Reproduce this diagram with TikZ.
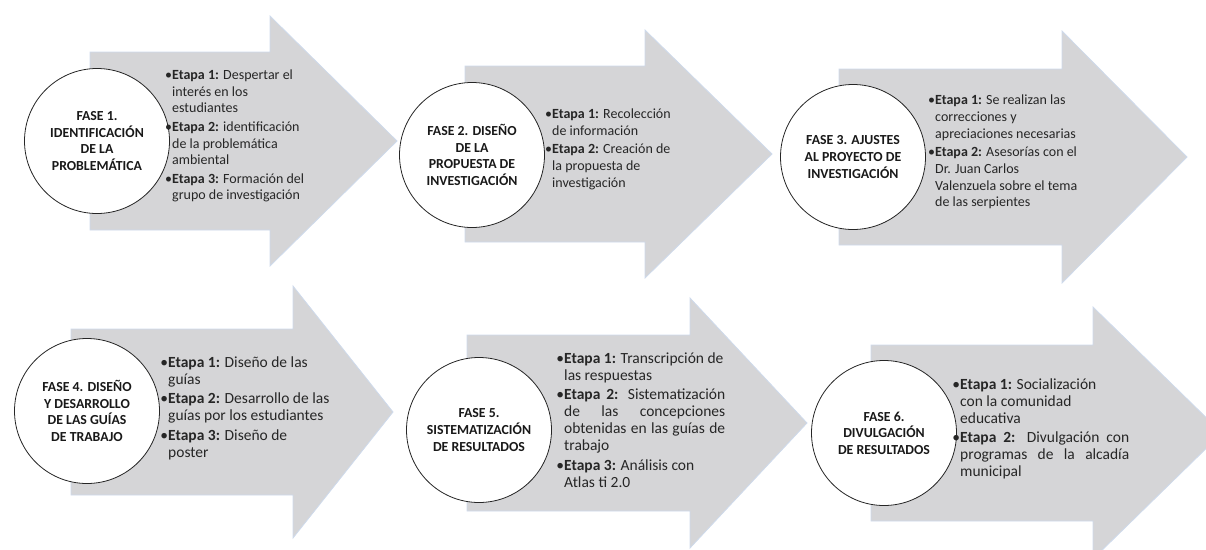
\documentclass[tikz,border=0pt]{standalone}
\usepackage{fontspec}
\setmainfont{Carlito}
\usepackage{tikz}
\usetikzlibrary{positioning}
\definecolor{flechagris}{RGB}{213,213,215}
\definecolor{flechaborde}{RGB}{206,218,236}
\tikzstyle{flecha} = [fill=flechagris, draw=flechaborde, line width=0.8pt]
\tikzstyle{fase} = [circle, draw=black!85, fill=white, line width=0.8pt, minimum size=145pt, inner sep=0pt, align=center, font=\bfseries\fontsize{13.8}{16.6}\selectfont, text=black!90]
\tikzstyle{etapas} = [anchor=west, align=left, inner sep=0pt, font=\fontsize{14}{16.8}\selectfont, text=black!85]
\tikzstyle{etapasg} = [etapas, font=\fontsize{15.5}{17}\selectfont]
% left x, centre y, head x, tip x, half body, half head
\newcommand{\flecha}[6]{%
  \fill[flecha] (#1,#2-#5) -- (#3,#2-#5) -- (#3,#2-#6) -- (#4,#2) -- (#3,#2+#6) -- (#3,#2+#5) -- (#1,#2+#5) -- cycle;}
\newcommand{\etapa}[1]{\llap{\textbullet}\textbf{Etapa #1:}}
\newcommand{\justa}[2]{\makebox[#1][s]{#2}}

\begin{document}
\begin{tikzpicture}[x=1pt, y=-1pt]
    \useasboundingbox (0,0) rectangle (1206,549);

    % Arrows
    \flecha{90}{141}{270}{397}{89}{125}
    \flecha{465}{154}{645}{772}{88}{124}
    \flecha{839}{157}{1062}{1187}{88}{126}
    \flecha{71}{412}{293}{393}{83}{126}
    \flecha{467}{423}{690}{807}{88}{125}
    \flecha{871}{433}{1093}{1222}{88}{126}

    % Phases
    \node (c1) [fase] at (97,141) {FASE 1.\\IDENTIFICACIÓN\\DE LA\\PROBLEMÁTICA};
    \node (c2) [fase] at (472,155) {FASE 2. DISEÑO\\DE LA\\PROPUESTA DE\\INVESTIGACIÓN};
    \node (c3) [fase] at (853,157) {FASE 3. AJUSTES\\AL PROYECTO DE\\INVESTIGACIÓN};
    \node (c4) [fase] at (87,411) {FASE 4. DISEÑO\\Y DESARROLLO\\DE LAS GUÍAS\\DE TRABAJO};
    \node (c5) [fase] at (479,430) {FASE 5.\\SISTEMATIZACIÓN\\DE RESULTADOS};
    \node (c6) [fase] at (884,433) {FASE 6.\\DIVULGACIÓN\\DE RESULTADOS};

    % Stages
    \node (e1) [etapas] at (172,136) {\etapa{1} Despertar el\\interés en los\\estudiantes\\[1.5pt]
        \etapa{2} identificación\\de la problemática\\ambiental\\[1.5pt]
        \etapa{3} Formación del\\grupo de investigación};
    \node (e2) [etapas] at (552,149) {\etapa{1} Recolección\\de información\\[1.5pt]
        \etapa{2} Creación de\\la propuesta de\\investigación};
    \node (e3) [etapas] at (935,152) {\etapa{1} Se realizan las\\correcciones y\\apreciaciones necesarias\\[1.5pt]
        \etapa{2} Asesorías con el\\Dr. Juan Carlos\\Valenzuela sobre el tema\\de las serpientes};
    \node (e4) [etapasg] at (168,408) {\etapa{1} Diseño de las\\guías\\[2.5pt]
        \etapa{2} Desarrollo de las\\guías por los estudiantes\\[2.5pt]
        \etapa{3} Diseño de\\poster};
    \node (e5) [etapasg] at (564,420) {\etapa{1} Transcripción de\\las respuestas\\[2.5pt]
        \justa{161pt}{\etapa{2} Sistematización}\\
        \justa{161pt}{de las concepciones}\\
        \justa{161pt}{obtenidas en las guías de}\\
        trabajo\\[2.5pt]
        \etapa{3} Análisis con\\Atlas ti 2.0};
    \node (e6) [etapasg] at (960,429) {\etapa{1} Socialización\\con la comunidad\\educativa\\[2.5pt]
        \justa{169pt}{\etapa{2} Divulgación con}\\
        \justa{169pt}{programas de la alcadía}\\
        municipal};
\end{tikzpicture}
\end{document}
